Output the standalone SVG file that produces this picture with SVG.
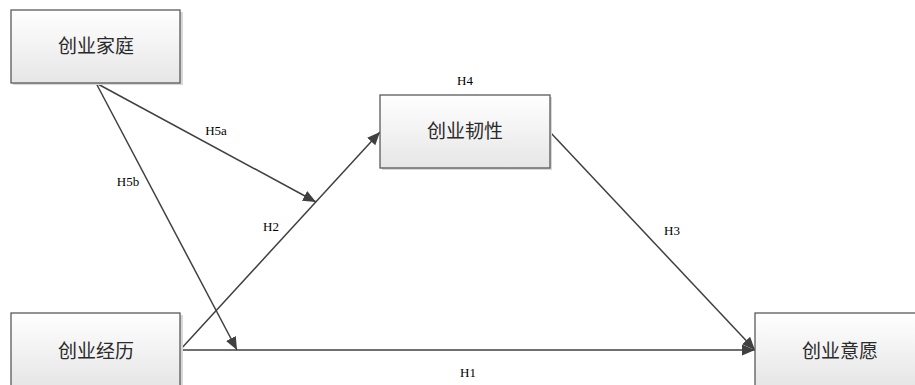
<svg xmlns="http://www.w3.org/2000/svg" width="915" height="385" viewBox="0 0 915 385">
<defs>
<linearGradient id="g" x1="0" y1="0" x2="0" y2="1">
<stop offset="0" stop-color="#ffffff"/>
<stop offset="1" stop-color="#e6e6e6"/>
</linearGradient>
<marker id="arr" markerWidth="14" markerHeight="12" refX="13" refY="5.5" orient="auto" markerUnits="userSpaceOnUse">
<path d="M0,0 L13,5.5 L0,11 z" fill="#404040"/>
</marker>
<style>
.box{fill:url(#g);stroke:#5a5a5a;stroke-width:1.3}
.shadow{fill:#d8d8d8}
.t{font-family:"Noto Sans CJK SC","Noto Sans",sans-serif;font-size:19px;font-weight:400;fill:#2a2a2a;text-anchor:middle}
.l{font-family:"Liberation Serif",serif;font-size:13px;fill:#000;text-anchor:middle}
.c{stroke:#404040;stroke-width:1.5;fill:none;marker-end:url(#arr)}
</style>
</defs>
<rect width="915" height="385" fill="#fff"/>
<g id="connectors">
<line class="c" x1="96" y1="83" x2="316" y2="202"/>
<line class="c" x1="96" y1="83" x2="237" y2="350"/>
<line class="c" x1="180" y1="350" x2="380" y2="132"/>
<line class="c" x1="550" y1="132" x2="755" y2="350"/>
<line class="c" x1="180" y1="350" x2="755" y2="350"/>
</g>
<g id="labels">
<text class="l" x="216" y="135">H5a</text>
<text class="l" x="128" y="186">H5b</text>
<text class="l" x="271" y="231">H2</text>
<text class="l" x="465" y="85">H4</text>
<text class="l" x="672" y="235">H3</text>
<text class="l" x="468" y="377">H1</text>
</g>
<g id="node-jiating">
<rect class="shadow" x="13" y="12" width="170" height="73"/>
<rect class="box" x="11" y="10" width="169" height="73"/>
<text class="t" x="96" y="53">创业家庭</text>
</g>
<g id="node-renxing">
<rect class="shadow" x="382" y="97" width="170" height="73"/>
<rect class="box" x="380" y="95" width="170" height="73"/>
<text class="t" x="465" y="138">创业韧性</text>
</g>
<g id="node-jingli">
<rect class="shadow" x="13" y="315" width="170" height="73"/>
<rect class="box" x="11" y="313" width="169" height="73"/>
<text class="t" x="96" y="358">创业经历</text>
</g>
<g id="node-yiyuan">
<rect class="shadow" x="757" y="315" width="170" height="73"/>
<rect class="box" x="755" y="313" width="170" height="73"/>
<text class="t" x="840" y="358">创业意愿</text>
</g>
</svg>
